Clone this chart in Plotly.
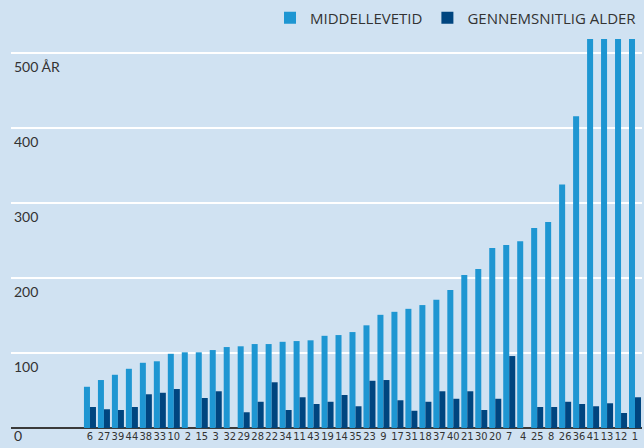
import plotly.graph_objects as go

categories = ["6", "27", "39", "44", "38", "33", "10", "2", "15", "3", "32", "29", "28", "22",
              "34", "11", "43", "19", "14", "35", "23", "9", "17", "31", "18", "37", "40", "21",
              "30", "20", "7", "4", "25", "8", "26", "36", "41", "13", "12", "1"]

middellevetid = [55, 64, 71, 79, 87, 89, 99, 101, 101, 104, 108, 109, 112, 112,
                 115, 116, 117, 123, 124, 128, 137, 151, 155, 159, 164, 171, 184, 204,
                 212, 240, 244, 249, 267, 275, 325, 416, 519, 519, 519, 519]

gennemsnitlig_alder = [28, 25, 24, 28, 45, 47, 52, 0, 40, 49, 0, 21, 35, 61,
                       24, 41, 32, 35, 44, 29, 63, 64, 37, 23, 35, 49, 39, 49,
                       24, 39, 96, 0, 28, 28, 35, 32, 29, 33, 20, 41]

y_ticks = [0, 100, 200, 300, 400, 500]
y_labels = ["0", "100", "200", "300", "400", "500 ÅR"]

BG = "#d0e2f2"
LIGHT = "#1e96d2"
DARK = "#00457f"
TXT = "#333333"
FONT = "Lato"
NARROW = "Liberation Sans Narrow, DejaVu Sans Condensed, Lato"

fig = go.Figure()
fig.add_trace(go.Bar(x=categories, y=middellevetid, name="MIDDELLEVETID",
                     marker=dict(color=LIGHT, line=dict(width=0))))
fig.add_trace(go.Bar(x=categories, y=gennemsnitlig_alder, name="GENNEMSNITLIG ALDER",
                     marker=dict(color=DARK, line=dict(width=0))))

annotations = []
for v, lab in zip(y_ticks, y_labels):
    annotations.append(dict(
        x=0, xref="paper", y=v, yref="y", text=lab, showarrow=False,
        xanchor="left", yanchor="middle", xshift=1,
        yshift=-7 if v == 0 else -13,
        font=dict(family=FONT, size=14, color=TXT)))

fig.update_layout(
    width=644, height=448,
    margin=dict(l=11, r=2, t=39, b=20),
    paper_bgcolor=BG, plot_bgcolor=BG,
    barmode="group", bargap=0.14, bargroupgap=0,
    showlegend=True,
    legend=dict(orientation="h", x=1.0, xanchor="right", y=0.96, yanchor="middle",
                yref="container", font=dict(family="Open Sans", size=15, color=TXT),
                bgcolor="rgba(0,0,0,0)", traceorder="normal", itemwidth=30),
    font=dict(family=FONT, color=TXT),
    annotations=annotations,
    xaxis=dict(type="category", range=[-5.65, 39.5], showgrid=False, zeroline=False,
               tickmode="array", tickvals=categories, ticktext=categories,
               tickangle=0, ticks="", tickfont=dict(family=NARROW, size=11, color=TXT),
               showline=False, fixedrange=True),
    yaxis=dict(range=[0, 519], tickvals=y_ticks, showticklabels=False,
               showgrid=True, gridcolor="white", gridwidth=2,
               zeroline=True, zerolinecolor="#3a3a3a", zerolinewidth=2,
               showline=False, fixedrange=True),
)

fig.write_html("out.html", config={"displayModeBar": False},
               post_script="document.body.style.margin='0px';")
